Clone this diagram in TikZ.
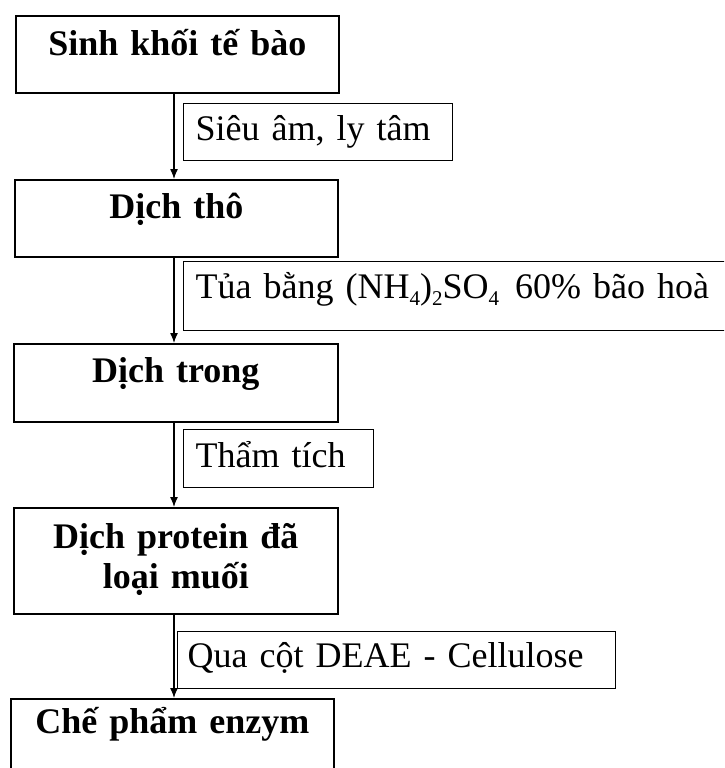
\documentclass[tikz,border=0pt]{standalone}
\usepackage{fontspec}
\setmainfont{Liberation Serif}
\usetikzlibrary{arrows.meta}

\newcommand{\chemsub}[1]{\raisebox{-7pt}{\fontsize{21}{21}\selectfont #1}}

\begin{document}
\begin{tikzpicture}[x=1pt,y=-1pt,
		stage/.style={draw,line width=1.6pt,anchor=north west,inner xsep=0pt,inner ysep=0pt,
			align=center,font=\bfseries\fontsize{36}{40}\selectfont},
		oplabel/.style={draw,line width=1.3pt,anchor=north west,inner xsep=12pt,inner ysep=0pt,
			align=left,font=\fontsize{36}{40}\selectfont},
		flow/.style={line width=1.3pt,-{Latex[length=10pt,width=8pt]}}]
		{
			\useasboundingbox (0,0) rectangle (724,768);
			\clip (0,0) rectangle (724,768);
			\coordinate (spine) at (174,0);

			% process stages
			\node[stage,text width=323pt,text height=40pt,text depth=37pt] (b1) at (15,15) {Sinh khối tế bào};
			\node[stage,text width=323pt,text height=39pt,text depth=38pt] (b2) at (14,179) {Dịch thô};
			\node[stage,text width=324pt,text height=39pt,text depth=39pt] (b3) at (13,343) {Dịch trong};
			\node[stage,text width=324pt,text height=41pt,text depth=65pt] (b4) at (13,507) {Dịch protein đã\\loại muối};
			\node[stage,text width=323pt,text height=35pt,text depth=60pt] (b5) at (10,698) {Chế phẩm enzym};

			% treatments
			\node[oplabel,text width=245pt,text height=37pt,text depth=20pt] (t1) at (183,103) {Siêu âm, ly tâm};
			\node[oplabel,text width=533pt,text height=37pt,text depth=32pt] (t2) at (183,261)
				{Tủa bằng (NH\chemsub{4})\chemsub{2}SO\chemsub{4}\hspace{4pt} 60\% bão hoà};
			\node[oplabel,text width=166pt,text height=38pt,text depth=20pt] (t3) at (183,429) {Thẩm tích};
			\node[oplabel,inner xsep=10pt,text width=418pt,text height=36pt,text depth=21pt] (t4) at (177,631) {Qua cột DEAE - Cellulose};

			\foreach \a/\b in {b1/b2,b2/b3,b3/b4,b4/b5}
				\draw[flow] (\a.south -| spine) -- (\b.north -| spine);
		}
	\end{tikzpicture}
\end{document}
